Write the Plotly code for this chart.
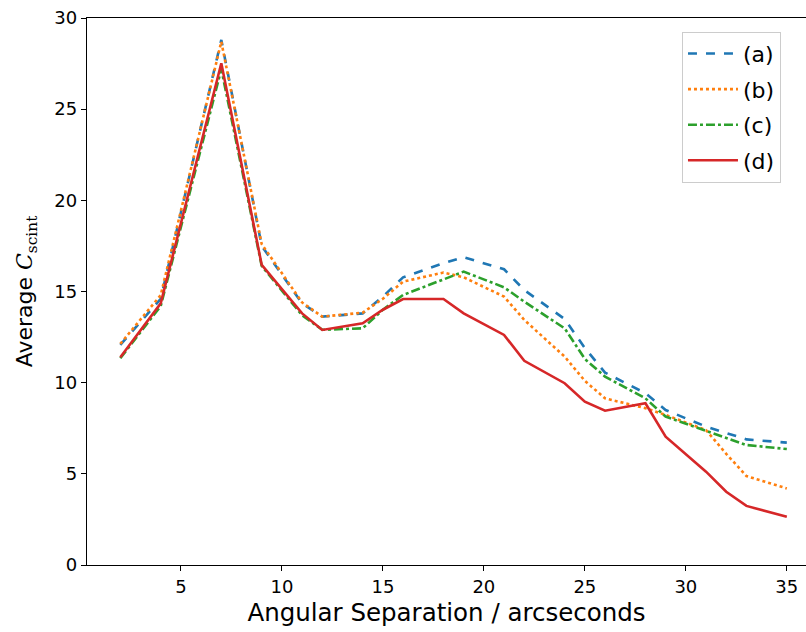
import plotly.graph_objects as go

# Angular separation (arcseconds)
sep = [2, 4, 7, 9, 11, 12, 14, 15, 16, 18, 19, 21, 22, 24, 25, 26, 28, 29, 31, 32, 33, 35]

series_a = [12.07, 14.6, 28.8, 17.5, 14.35, 13.62, 13.8, 14.72, 15.78, 16.55, 16.88, 16.22,
            15.08, 13.49, 11.9, 10.55, 9.42, 8.5, 7.59, 7.25, 6.89, 6.71]
series_b = [12.13, 14.8, 28.7, 17.6, 14.4, 13.62, 13.84, 14.6, 15.54, 16.04, 15.78, 14.72,
            13.44, 11.43, 10.1, 9.14, 8.6, 8.23, 7.4, 6.1, 4.88, 4.2]
series_c = [11.34, 14.2, 27.2, 16.4, 13.7, 12.9, 12.98, 14.0, 14.81, 15.66, 16.09, 15.23,
            14.44, 12.98, 11.3, 10.33, 9.14, 8.14, 7.37, 6.95, 6.58, 6.36]
series_d = [11.39, 14.35, 27.52, 16.46, 13.8, 12.89, 13.26, 14.0, 14.59, 14.59, 13.8, 12.62,
            11.2, 9.97, 8.96, 8.46, 8.87, 7.04, 5.12, 4.02, 3.24, 2.65]

names = ["(a)", "(b)", "(c)", "(d)"]
colors = ["#1f77b4", "#ff7f0e", "#2ca02c", "#d62728"]
dashes = ["dash", "dot", "dashdot", "solid"]

x_ticks = [5, 10, 15, 20, 25, 30, 35]
y_ticks = [0, 5, 10, 15, 20, 25, 30]

fig = go.Figure()
for name, ys, c, d in zip(names, [series_a, series_b, series_c, series_d], colors, dashes):
    fig.add_trace(go.Scatter(x=sep, y=ys, mode="lines", name=name, legendgroup=name,
                             line=dict(color=c, width=2.6, dash=d)))

font = "DejaVu Sans, sans-serif"
fig.update_layout(
    width=806, height=632,
    margin=dict(l=87, r=0, t=18, b=67),
    plot_bgcolor="white", paper_bgcolor="white",
    font=dict(family=font, size=18, color="black"),
    showlegend=True,
    legend=dict(x=0.8275, y=0.975, xanchor="left", yanchor="top",
                bgcolor="rgba(255,255,255,0.8)", bordercolor="#cccccc", borderwidth=1,
                font=dict(size=22, family=font), tracegroupgap=4, itemwidth=50),
    xaxis=dict(range=[0.35, 35.95], tickvals=x_ticks, ticks="outside", ticklen=5,
               tickwidth=1.2, tickcolor="black", showgrid=False, zeroline=False,
               showline=True, linecolor="black", linewidth=1.3, mirror=True,
               tickfont=dict(size=18),
               title=dict(text="Angular Separation / arcseconds", font=dict(size=24.5), standoff=8)),
    yaxis=dict(range=[0, 30], tickvals=y_ticks, ticks="outside", ticklen=5,
               tickwidth=1.2, tickcolor="black", showgrid=False, zeroline=False,
               showline=True, linecolor="black", linewidth=1.3,
               tickfont=dict(size=18),
               title=dict(text="Average <span style='font-family:DejaVu Serif'><i>C</i><sub>scint</sub></span>",
                          font=dict(size=22), standoff=15)),
)

fig.write_html("out.html")
